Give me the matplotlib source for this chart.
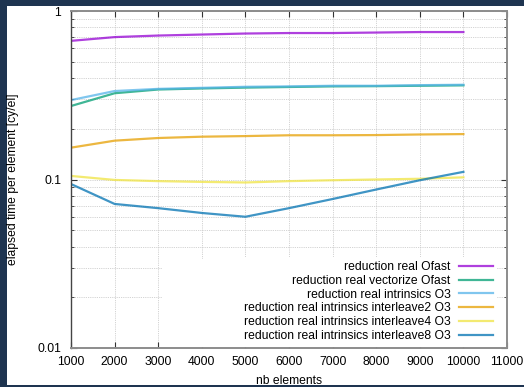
import matplotlib
matplotlib.use("Agg")
from matplotlib import pyplot as plt
from matplotlib.patches import Rectangle
from matplotlib.ticker import LogLocator, NullFormatter, FixedLocator
import numpy as np

plt.rcParams['font.family'] = ['Liberation Sans', 'DejaVu Sans']
plt.rcParams['font.size'] = 8.7

nb_elements = [1000, 2000, 3000, 4000, 5000, 6000, 7000, 8000, 9000, 10000]

ofast = [0.665, 0.70, 0.715, 0.725, 0.735, 0.74, 0.74, 0.745, 0.75, 0.75]
vectorize_ofast = [0.273, 0.325, 0.342, 0.347, 0.351, 0.354, 0.357, 0.358, 0.360, 0.362]
intrinsics = [0.296, 0.335, 0.345, 0.350, 0.355, 0.357, 0.360, 0.360, 0.363, 0.365]
interleave2 = [0.1545, 0.170, 0.1763, 0.1795, 0.181, 0.183, 0.183, 0.1835, 0.185, 0.186]
interleave4 = [0.105, 0.0994, 0.0978, 0.0968, 0.096, 0.0978, 0.099, 0.100, 0.101, 0.103]
interleave8 = [0.094, 0.0716, 0.0676, 0.0633, 0.0601, 0.0676, 0.0766, 0.0872, 0.099, 0.111]

series = [
    ("reduction real Ofast", ofast, "#9400d3"),
    ("reduction real vectorize Ofast", vectorize_ofast, "#009e73"),
    ("reduction real intrinsics O3", intrinsics, "#56b4e9"),
    ("reduction real intrinsics interleave2 O3", interleave2, "#e69f00"),
    ("reduction real intrinsics interleave4 O3", interleave4, "#f0e442"),
    ("reduction real intrinsics interleave8 O3", interleave8, "#0072b2"),
]

fig = plt.figure(figsize=(5.24, 3.87), dpi=100, facecolor="#1e3450")
# white page inside the dark frame
fig.patches.append(Rectangle((7 / 524, 2 / 387), 517 / 524, 379 / 387,
                             transform=fig.transFigure, facecolor="white",
                             edgecolor="none", zorder=-1))

ax = fig.add_axes([71 / 524, 1 - 348 / 387, 436 / 524, 337 / 387])
ax.set_facecolor("white")

for label, vals, color in series:
    ax.plot(nb_elements, vals, color=color, lw=1.6, alpha=0.75, label=label)

ax.set_yscale("log")
ax.set_ylim(0.01, 1)
ax.set_xlim(1000, 11000)
ax.xaxis.set_major_locator(FixedLocator(np.arange(1000, 11001, 1000)))
ax.yaxis.set_major_locator(FixedLocator([0.01, 0.1, 1]))
ax.yaxis.set_major_formatter(plt.FuncFormatter(lambda v, p: f"{v:g}"))
ax.yaxis.set_minor_locator(LogLocator(base=10, subs=np.arange(2, 10)))
ax.yaxis.set_minor_formatter(NullFormatter())

grid_style = dict(color="#c4c4c4", ls=(0, (1, 1.2)), lw=0.6)
ax.grid(True, which="major", axis="both", **grid_style)
ax.grid(True, which="minor", axis="y", **grid_style)

ax.tick_params(which="major", direction="in", length=4, width=0.8, color="#333333",
               top=True, right=True, labelsize=8.7)
ax.tick_params(axis="x", which="major", pad=6)
ax.tick_params(axis="y", which="major", pad=7)
ax.tick_params(which="minor", direction="in", length=2, width=0.6, color="#333333",
               top=False, right=True)

for side in ["top", "right", "bottom"]:
    ax.spines[side].set_color("#8c8c8c")
    ax.spines[side].set_linewidth(1.4)
ax.spines["left"].set_color("#444444")
ax.spines["left"].set_linewidth(1.0)

ax.set_xlabel("nb elements", fontsize=8.7, labelpad=4.5)
ax.set_ylabel("elapsed time per element [cy/el]", fontsize=8.7, labelpad=13)

# the key box is wider than its text, blanking the grid behind it
ax.add_patch(Rectangle((0.209, 0.004), 0.768, 0.26, transform=ax.transAxes,
                       facecolor="white", edgecolor="none", zorder=1.8))

leg = ax.legend(loc="lower right", bbox_to_anchor=((497 - 71) / 436, 0.005),
                borderaxespad=0, markerfirst=False, frameon=True, fancybox=False,
                framealpha=1, facecolor="white", edgecolor="none",
                handlelength=2.8, handletextpad=0.7, labelspacing=0.15,
                borderpad=0.35, fontsize=8.7)
for line in leg.get_lines():
    line.set_linewidth(1.6)

fig.savefig("out.png", dpi=100, facecolor=fig.get_facecolor())
